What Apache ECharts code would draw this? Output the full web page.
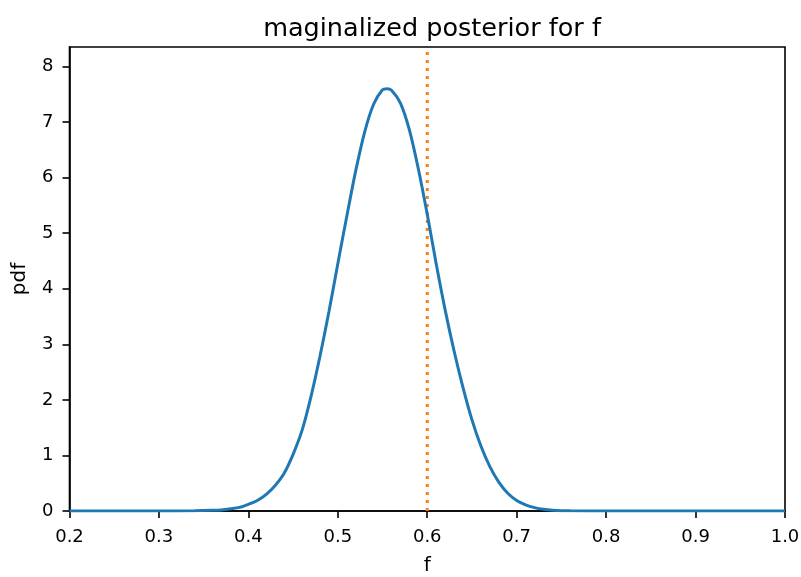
<!DOCTYPE html>
<html>
<head>
<meta charset="utf-8">
<script src="https://cdn.jsdelivr.net/npm/echarts@6/dist/echarts.min.js"></script>
<style>html,body{margin:0;padding:0;background:#fff;}#c{width:801px;height:577px;}</style>
</head>
<body>
<div id="c"></div>
<script>
// Data
const fValues = [0.20, 0.30, 0.34, 0.36, 0.37, 0.38, 0.39, 0.40, 0.41, 0.42, 0.43, 0.44, 0.45, 0.46, 0.47, 0.48, 0.49, 0.50, 0.51, 0.52, 0.53, 0.54, 0.55, 0.555, 0.56, 0.57, 0.58, 0.59, 0.60, 0.61, 0.62, 0.63, 0.64, 0.65, 0.66, 0.67, 0.68, 0.69, 0.70, 0.71, 0.72, 0.73, 0.74, 0.76, 0.80, 1.00];
const pdfValues = [0.0, 0.0, 0.004, 0.012, 0.02, 0.04, 0.065, 0.12, 0.19, 0.30, 0.46, 0.68, 1.02, 1.45, 2.06, 2.78, 3.58, 4.45, 5.30, 6.12, 6.82, 7.32, 7.58, 7.60, 7.57, 7.34, 6.86, 6.16, 5.34, 4.45, 3.62, 2.88, 2.22, 1.64, 1.17, 0.80, 0.52, 0.32, 0.19, 0.11, 0.06, 0.03, 0.015, 0.004, 0.0, 0.0];
const trueF = 0.6;
const xTicks = [0.2, 0.3, 0.4, 0.5, 0.6, 0.7, 0.8, 0.9, 1.0];
const yTicks = [0, 1, 2, 3, 4, 5, 6, 7, 8];
const xRange = [0.2, 1.0];
const yRange = [0, 8.35];

const curve = fValues.map((f, i) => [f, pdfValues[i]]);
const vline = [[trueF, yRange[0]], [trueF, yRange[1]]];

const font = 'DejaVu Sans';
const chart = echarts.init(document.getElementById('c'), null, {renderer: 'canvas'});
chart.setOption({
  animation: false,
  backgroundColor: '#fff',
  title: {
    text: 'maginalized posterior for f',
    left: 427, top: 11, textAlign: 'center',
    textStyle: {fontFamily: font, fontSize: 25.5, fontWeight: 'normal', color: '#000'}
  },
  grid: {left: 69.5, right: 16, top: 47, bottom: 66, containLabel: false, outerBoundsMode: 'none',
         show: true, borderColor: '#000', borderWidth: 1.6, backgroundColor: 'transparent'},
  xAxis: {
    type: 'value', min: xRange[0], max: xRange[1], interval: 0.1,
    name: 'f', nameLocation: 'middle', nameGap: 45,
    nameTextStyle: {fontFamily: font, fontSize: 20, color: '#000'},
    axisLine: {show: true, onZero: false, lineStyle: {color: '#000', width: 1.6}},
    axisTick: {show: true, length: 7, inside: false, customValues: xTicks, lineStyle: {color: '#000', width: 1.6}},
    axisLabel: {customValues: xTicks, margin: 17, fontFamily: font, fontSize: 18, color: '#000', formatter: v => v.toFixed(1)},
    splitLine: {show: false}
  },
  yAxis: {
    type: 'value', min: yRange[0], max: yRange[1],
    name: 'pdf', nameLocation: 'middle', nameGap: 39.5, nameRotate: 90,
    nameTextStyle: {fontFamily: font, fontSize: 20, color: '#000'},
    axisLine: {show: true, onZero: false, lineStyle: {color: '#000', width: 1.6}},
    axisTick: {show: true, length: 7, inside: false, customValues: yTicks, lineStyle: {color: '#000', width: 1.6}},
    axisLabel: {customValues: yTicks, margin: 16, fontFamily: font, fontSize: 18, color: '#000', formatter: v => String(Math.round(v))},
    splitLine: {show: false}
  },
  series: [
    {
      type: 'line', data: curve, showSymbol: false, smooth: 0.3, clip: true,
      lineStyle: {color: '#1f77b4', width: 3}, z: 3
    },
    {
      type: 'line', data: vline, showSymbol: false, clip: true,
      lineStyle: {color: '#ff7f0e', width: 3, type: [3, 5]}, z: 2
    }
  ]
});
</script>
</body>
</html>
